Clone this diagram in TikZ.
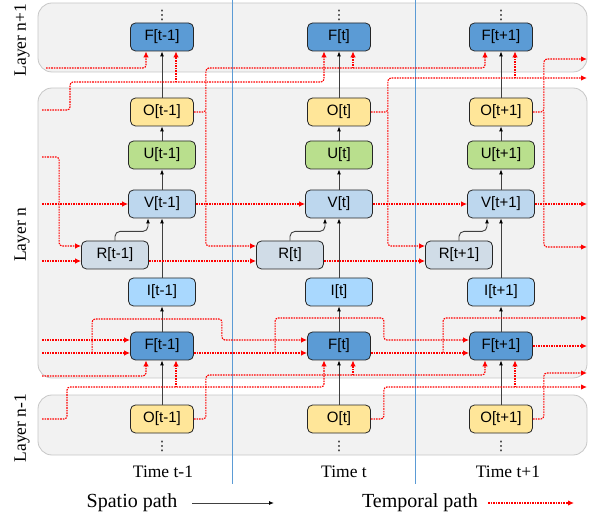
\documentclass[tikz,border=0pt]{standalone}
\usepackage{fontspec}
\setmainfont{Liberation Serif}
\setsansfont{Liberation Sans}
\newfontfamily\dotsfont{DejaVu Sans}
\usetikzlibrary{arrows.meta,calc}
\definecolor{fireblue}{HTML}{5B9BD5}
\definecolor{outyellow}{HTML}{FFE699}
\definecolor{updgreen}{HTML}{B9DF8D}
\definecolor{volblue}{HTML}{BDD7EE}
\definecolor{resgray}{HTML}{D0DCE7}
\definecolor{inpblue}{HTML}{A9D8FE}
\definecolor{sepblue}{HTML}{5B9BD5}
\tikzset{
  unit/.style={draw=black!85, line width=0.8pt, rounded corners=5pt,
    minimum width=63pt, minimum height=28pt, inner sep=0pt,
    font=\sffamily\fontsize{15}{18}\selectfont},
  wideunit/.style={unit, minimum width=67pt},
  more/.style={inner sep=0pt, font=\dotsfont\fontsize{13}{13}\selectfont},
  lab/.style={font=\fontsize{17.5}{20}\selectfont, inner sep=0pt},
  leg/.style={font=\fontsize{20}{24}\selectfont, inner sep=0pt},
  panel/.style={draw=black!22, fill=black!5, rounded corners=14pt, line width=0.8pt},
  sep/.style={draw=sepblue, line width=0.8pt},
  spath/.style={draw=black!75, line width=0.9pt, -{Latex[length=5pt,width=4pt,color=black]}},
  tpath/.style={draw=red, line width=1.1pt, dash pattern=on 1.6pt off 1pt,
    rounded corners=3pt, -{Latex[length=6pt,width=5.5pt]}}
}
\begin{document}
\begin{tikzpicture}[x=1pt,y=-1pt]
  \useasboundingbox (0,0) rectangle (595,513);
  % layers and time steps
  \draw[panel] (38,3) rectangle (587,72);
  \draw[panel] (38,88) rectangle (587,378);
  \draw[panel] (38,395) rectangle (587,455);
  \draw[sep] (232,0) -- (232,484);
  \draw[sep] (415,0) -- (415,484);
  % units
  \path
    (162,37) node[unit,fill=fireblue] (Fta){F[t-1]}
    (339,37) node[unit,fill=fireblue] (Ftb){F[t]}
    (501,37) node[unit,fill=fireblue] (Ftc){F[t+1]}
    (162,112) node[unit,fill=outyellow] (Oa){O[t-1]}
    (339,112) node[unit,fill=outyellow] (Ob){O[t]}
    (501,112) node[unit,fill=outyellow] (Oc){O[t+1]}
    (162,155) node[wideunit,fill=updgreen] (Ua){U[t-1]}
    (339,155) node[wideunit,fill=updgreen] (Ub){U[t]}
    (501,155) node[wideunit,fill=updgreen] (Uc){U[t+1]}
    (162,204) node[wideunit,fill=volblue] (Va){V[t-1]}
    (339,204) node[wideunit,fill=volblue] (Vb){V[t]}
    (501,204) node[wideunit,fill=volblue] (Vc){V[t+1]}
    (115,255) node[wideunit,fill=resgray] (Ra){R[t-1]}
    (290,255) node[wideunit,fill=resgray] (Rb){R[t]}
    (459,255) node[wideunit,fill=resgray] (Rc){R[t+1]}
    (162,292) node[wideunit,fill=inpblue] (Ia){I[t-1]}
    (339,292) node[wideunit,fill=inpblue] (Ib){I[t]}
    (501,292) node[wideunit,fill=inpblue] (Ic){I[t+1]}
    (162,346) node[unit,fill=fireblue] (Fa){F[t-1]}
    (339,346) node[unit,fill=fireblue] (Fb){F[t]}
    (501,346) node[unit,fill=fireblue] (Fc){F[t+1]}
    (162,419) node[unit,fill=outyellow] (Oba){O[t-1]}
    (339,419) node[unit,fill=outyellow] (Obb){O[t]}
    (501,419) node[unit,fill=outyellow] (Obc){O[t+1]};
  \path
    (162,15) node[more] (dta){⋮}
    (339,15) node[more] (dtb){⋮}
    (501,15) node[more] (dtc){⋮}
    (162,446) node[more] (dba){⋮}
    (339,446) node[more] (dbb){⋮}
    (501,446) node[more] (dbc){⋮};
  % labels
  \path
    (22,40) node[lab,rotate=90] (lnp){Layer n+1}
    (22,235) node[lab,rotate=90] (ln){Layer n}
    (22,428) node[lab,rotate=90] (lnm){Layer n-1}
    (163,472) node[lab] (tma){Time t-1}
    (344,472) node[lab] (tmb){Time t}
    (508,472) node[lab] (tmc){Time t+1}
    (132,503) node[leg] (sp){Spatio path}
    (420,503) node[leg] (tp){Temporal path};
  % free ends
  \coordinate (w1) at (46,68);
  \coordinate (w2) at (42,110);
  \coordinate (w3) at (42,157);
  \coordinate (w4) at (42,204);
  \coordinate (w5) at (42,261);
  \coordinate (w6) at (42,340);
  \coordinate (w7) at (42,353);
  \coordinate (w8) at (42,376);
  \coordinate (w9) at (42,419);
  \coordinate (e1) at (587,59);
  \coordinate (e2) at (587,78);
  \coordinate (e3) at (587,204);
  \coordinate (e4) at (587,247);
  \coordinate (e5) at (587,318);
  \coordinate (e6) at (587,346);
  \coordinate (e7) at (587,373);
  \coordinate (e8) at (587,387);
  \coordinate (sa) at (274,503);
  \coordinate (ta) at (574,503);
  % spatio path
  \begin{scope}[spath]
    \draw (Oba.north) -- (Fa.south);
    \draw (Obb.north) -- (Fb.south);
    \draw (Obc.north) -- (Fc.south);
    \draw (Fa.north) -- (Ia.south);
    \draw (Fb.north) -- (Ib.south);
    \draw (Fc.north) -- (Ic.south);
    \draw (Ia.north) -- (Va.south);
    \draw (Ib.north) -- (Vb.south);
    \draw (Ic.north) -- (Vc.south);
    \draw[rounded corners=5pt] (Ra.north) |- ($(Va.south)+(-14,13)$) -- ($(Va.south)+(-14,0)$);
    \draw[rounded corners=5pt] (Rb.north) |- ($(Vb.south)+(-14,13)$) -- ($(Vb.south)+(-14,0)$);
    \draw[rounded corners=5pt] (Rc.north) |- ($(Vc.south)+(-14,13)$) -- ($(Vc.south)+(-14,0)$);
    \draw (Va.north) -- (Ua.south);
    \draw (Vb.north) -- (Ub.south);
    \draw (Vc.north) -- (Uc.south);
    \draw (Ua.north) -- (Oa.south);
    \draw (Ub.north) -- (Ob.south);
    \draw (Uc.north) -- (Oc.south);
    \draw (Oa.north) -- (Fta.south);
    \draw (Ob.north) -- (Ftb.south);
    \draw (Oc.north) -- (Ftc.south);
    \draw ($(sp.east)+(15,0)$) -- (sa);
  \end{scope}
  % temporal path
  \begin{scope}[tpath]
    % into layer n+1
    \draw (w1) -| ($(Fta.south)+(-16,0)$);
    \draw (w2) -| ++(28,-28) -| ($(Ftb.south)+(-15,0)$);
    \draw ($(Fta.south)+(14,31)$) -- ($(Fta.south)+(14,0)$);
    \draw (Oa.east) -| ++(12,-44) -| ($(Ftc.south)+(-16,0)$);
    \draw ($(Ftb.south)+(14,17)$) -- ($(Ftb.south)+(14,0)$);
    \draw (Ob.east) -| ++(17,-34) -- (e2);
    \draw ($(Ftc.south)+(14,27)$) -- ($(Ftc.south)+(14,0)$);
    \draw (Oc.east) -| ++(11,-53) -- (e1);
    % inside layer n
    \draw ($(Oa.east)+(12,0)$) |- ($(Rb.west)+(0,-9)$);
    \draw ($(Ob.east)+(17,0)$) |- ($(Rc.west)+(0,-9)$);
    \draw ($(Oc.east)+(11,0)$) |- (e4);
    \draw (w3) -| ($(Ra.west)+(-22,-9)$) -- ($(Ra.west)+(0,-9)$);
    \draw (w4) -- (Va.west);
    \draw (Va.east) -- (Vb.west);
    \draw (Vb.east) -- (Vc.west);
    \draw (Vc.east) -- (e3);
    \draw (w5) -- ($(Ra.west)+(0,6)$);
    \draw ($(Ra.east)+(0,6)$) -- ($(Rb.west)+(0,6)$);
    \draw ($(Rb.east)+(0,6)$) -- ($(Rc.west)+(0,6)$);
    \draw (w6) -- ($(Fa.west)+(0,-6)$);
    \draw (w7) -- ($(Fa.west)+(0,7)$);
    \draw ($(Fa.west)+(-38,7)$) |- ($(Fa.east)+(28,-27)$) |- ($(Fb.west)+(0,-6)$);
    \draw ($(Fa.east)+(0,7)$) -- ($(Fb.west)+(0,7)$);
    \draw ($(Fb.west)+(-32,7)$) |- ($(Fb.east)+(13,-28)$) |- ($(Fc.west)+(0,-6)$);
    \draw ($(Fb.east)+(0,7)$) -- ($(Fc.west)+(0,7)$);
    \draw ($(Fc.west)+(-26,7)$) |- (e5);
    \draw (Fc.east) -- (e6);
    % from layer n-1
    \draw (w8) -| ($(Fa.south)+(-16,0)$);
    \draw (w9) -| ++(25,-32) -| ($(Fb.south)+(-15,0)$);
    \draw ($(Fa.south)+(14,27)$) -- ($(Fa.south)+(14,0)$);
    \draw (Oba.east) -| ++(12,-44) -| ($(Fc.south)+(-16,0)$);
    \draw ($(Fb.south)+(14,15)$) -- ($(Fb.south)+(14,0)$);
    \draw (Obb.east) -| ++(13,-32) -- (e8);
    \draw ($(Fc.south)+(14,27)$) -- ($(Fc.south)+(14,0)$);
    \draw (Obc.east) -| ++(11,-46) -- (e7);
    \draw ($(tp.east)+(10,0)$) -- (ta);
  \end{scope}
\end{tikzpicture}
\end{document}
